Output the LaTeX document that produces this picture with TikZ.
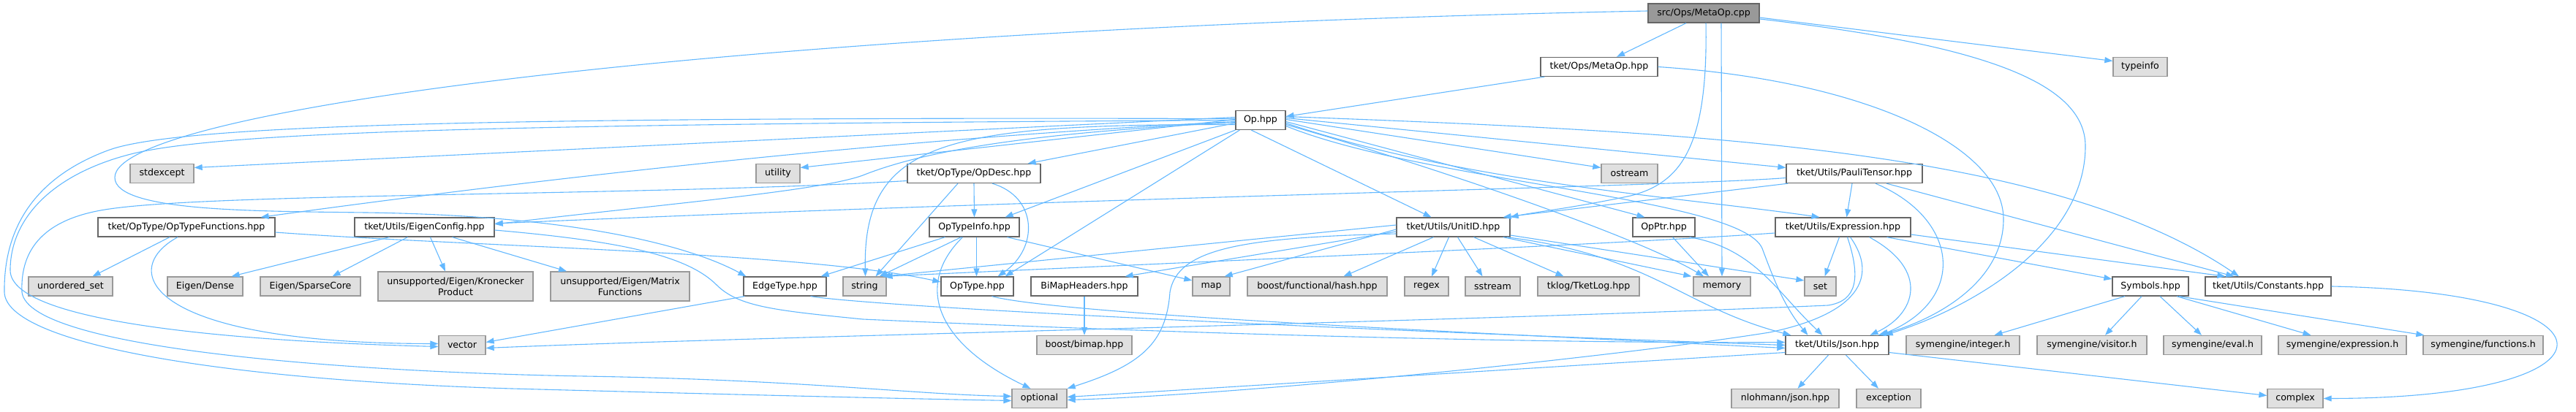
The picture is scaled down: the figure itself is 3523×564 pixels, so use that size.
\documentclass[tikz,border=0pt]{standalone}
\usepackage{fontspec}
\setmainfont{DejaVu Sans}
\usetikzlibrary{arrows.meta}
\definecolor{edgec}{HTML}{63B8FF}
\definecolor{ndbd}{HTML}{666666}
\definecolor{extbd}{HTML}{999999}
\definecolor{extfill}{HTML}{E0E0E0}
\definecolor{rootfill}{HTML}{999999}
\tikzset{
  box/.style={draw, line width=1.3pt, inner sep=0pt, minimum height=26pt,
    font=\fontsize{12.6pt}{15pt}\selectfont, align=center, text=black},
  nd/.style={box, draw=ndbd, fill=white},
  ext/.style={box, draw=extbd, fill=extfill},
  rootnd/.style={box, draw=ndbd, fill=rootfill},
  tall/.style={minimum height=40pt},
  dep/.style={draw=edgec, line width=1.1pt, -{Triangle[length=11pt,width=8pt]}}
}
\begin{document}
\begin{tikzpicture}[x=1pt,y=-1pt]
\useasboundingbox (0,0) rectangle (3523,564);
% row 0
\node[rootnd, minimum width=152pt] (root) at (2330,18) {src/Ops/MetaOp.cpp};
% row 1
\node[nd, minimum width=160pt] (metaophpp) at (2187,91.5) {tket/Ops/MetaOp.hpp};
\node[ext, minimum width=74pt] (typeinfo) at (2927,91.5) {typeinfo};
% row 2
\node[nd, minimum width=68pt] (op) at (1724,164.5) {Op.hpp};
% row 3
\node[ext, minimum width=87pt] (stdexcept) at (221.5,237.5) {stdexcept};
\node[ext, minimum width=60pt] (utility) at (1064,237.5) {utility};
\node[nd, minimum width=182pt] (opdesc) at (1332,237.5) {tket/OpType/OpDesc.hpp};
\node[ext, minimum width=77pt] (ostream) at (2228.5,237.5) {ostream};
\node[nd, minimum width=186pt] (pauli) at (2536,237.5) {tket/Utils/PauliTensor.hpp};
% row 4
\node[nd, minimum width=242pt] (optypefunc) at (255,311) {tket/OpType/OpTypeFunctions.hpp};
\node[nd, minimum width=191pt] (eigencfg) at (580.5,311) {tket/Utils/EigenConfig.hpp};
\node[nd, minimum width=123pt] (optypeinfo) at (1332.5,311) {OpTypeInfo.hpp};
\node[nd, minimum width=155pt] (unitid) at (1987.5,311) {tket/Utils/UnitID.hpp};
\node[nd, minimum width=85pt] (opptr) at (2275.5,311) {OpPtr.hpp};
\node[nd, minimum width=185pt] (expression) at (2520.5,311) {tket/Utils/Expression.hpp};
% row 5
\node[ext, minimum width=115pt] (unorderedset) at (96.5,392) {unordered\_set};
\node[ext, minimum width=103pt] (dense) at (280.5,392) {Eigen/Dense};
\node[ext, minimum width=137pt] (sparse) at (424.5,392) {Eigen/SparseCore};
\node[ext, tall, minimum width=212pt] (kron) at (623,392) {unsupported/Eigen/Kronecker\\Product};
\node[ext, tall, minimum width=190pt] (matfun) at (848,392) {unsupported/Eigen/Matrix\\Functions};
\node[nd, minimum width=113pt] (edgetype) at (1073.5,392) {EdgeType.hpp};
\node[ext, minimum width=59pt] (string) at (1182.5,392) {string};
\node[nd, minimum width=99pt] (optype) at (1336.5,392) {OpType.hpp};
\node[nd, minimum width=146pt] (bimaphdr) at (1483,392) {BiMapHeaders.hpp};
\node[ext, minimum width=51pt] (map) at (1656.5,392) {map};
\node[ext, minimum width=191pt] (hash) at (1801.5,392) {boost/functional/hash.hpp};
\node[ext, minimum width=60pt] (regex) at (1951,392) {regex};
\node[ext, minimum width=75pt] (sstream) at (2041.5,392) {sstream};
\node[ext, minimum width=139pt] (tketlog) at (2172.5,392) {tklog/TketLog.hpp};
\node[ext, minimum width=78pt] (memory) at (2355,392) {memory};
\node[ext, minimum width=43pt] (set) at (2489.5,392) {set};
\node[nd, minimum width=104pt] (symbols) at (2941,392) {Symbols.hpp};
\node[nd, minimum width=172pt] (constants) at (3102,392) {tket/Utils/Constants.hpp};
% row 6
\node[ext, minimum width=64pt] (vector) at (632,472.5) {vector};
\node[ext, minimum width=130pt] (bimap) at (1483,472.5) {boost/bimap.hpp};
\node[nd, minimum width=141pt] (json) at (2512.5,472.5) {tket/Utils/Json.hpp};
\node[ext, minimum width=155pt] (integer) at (2684.5,472.5) {symengine/integer.h};
\node[ext, minimum width=150pt] (visitor) at (2861,472.5) {symengine/visitor.h};
\node[ext, minimum width=134pt] (eval) at (3026,472.5) {symengine/eval.h};
\node[ext, minimum width=175pt] (exprh) at (3203.5,472.5) {symengine/expression.h};
\node[ext, minimum width=164pt] (functions) at (3396,472.5) {symengine/functions.h};
% row 7
\node[ext, minimum width=75pt] (optional) at (1421.5,545.5) {optional};
\node[ext, minimum width=147pt] (nlohmann) at (2441.5,545.5) {nlohmann/json.hpp};
\node[ext, minimum width=88pt] (exception) at (2583,545.5) {exception};
\node[ext, minimum width=76pt] (complex) at (3139,545.5) {complex};

% ---- edges from src/Ops/MetaOp.cpp
\draw[dep] ([xshift=-24pt]root.south) -- ([xshift=24pt]metaophpp.north);
\draw[dep] ([yshift=-6pt]root.east) -- ([yshift=8pt]typeinfo.west);
\draw[dep] ([xshift=24pt]root.south) -- (memory.north);
\draw[dep] ([xshift=3pt]root.south) .. controls (2336,200) and (2300,250) .. (2230,268)
  .. controls (2150,285) and (2100,290) .. (unitid.north east);
\draw[dep] ([yshift=-8pt]root.east) .. controls (2700,60) and (2852,110) .. (2852,200)
  .. controls (2852,330) and (2700,420) .. ([xshift=-6pt]json.north east);
\draw[dep] ([yshift=3pt]root.west) .. controls (1000,40) and (157,150) .. (157,243)
  .. controls (157,290) and (350,289) .. (500,291)
  .. controls (800,295) and (950,340) .. ([xshift=4pt]edgetype.north west);

% ---- tket/Ops/MetaOp.hpp
\draw[dep] ([xshift=6pt]metaophpp.south west) -- ([yshift=5pt]op.east);
\draw[dep] (metaophpp.east) .. controls (2550,110) and (2740,200) .. (2740,300)
  .. controls (2740,390) and (2640,440) .. ([xshift=-15pt]json.north east);

% ---- Op.hpp
\draw[dep] ([yshift=4pt]op.west) -- ([yshift=8pt]stdexcept.east);
\draw[dep] ([yshift=1pt]op.west) -- ([yshift=8pt]utility.east);
\draw[dep] ([yshift=-4pt]op.west) -- ([xshift=-18pt]opdesc.north east);
\draw[dep] ([yshift=-2pt]op.west) .. controls (1200,190) and (700,250) .. ([xshift=-20pt]optypefunc.north east);
\draw[dep] ([yshift=-3pt]op.west) .. controls (1450,180) and (1280,200) .. (1180,240)
  .. controls (1120,262) and (900,280) .. ([yshift=4pt]eigencfg.east);
\draw[dep] (op.south west) -- ([xshift=-20pt]optypeinfo.north east);
\draw[dep] ([xshift=22pt]op.south west) -- ([xshift=-30pt]unitid.north);
\draw[dep] ([yshift=-2pt]op.east) -- ([xshift=-26pt]opptr.north);
\draw[dep] ([yshift=1pt]op.east) -- ([yshift=8pt]ostream.west);
\draw[dep] ([yshift=3pt]op.east) -- ([yshift=8pt]pauli.west);
\draw[dep] ([yshift=-4pt]op.east) .. controls (2000,250) and (2300,270) .. ([xshift=-32pt]expression.north);
\draw[dep] ([yshift=-6pt]op.east) .. controls (2000,240) and (2250,330) .. ([xshift=-25pt]memory.north);
\draw[dep] ([yshift=5pt]op.east) .. controls (2300,180) and (2800,200) .. ([xshift=-40pt]constants.north);
\draw[dep] ([yshift=-8pt]op.east) .. controls (1950,250) and (2380,270) .. (2410,340)
  .. controls (2425,380) and (2440,420) .. ([xshift=-40pt]json.north);
\draw[dep] ([yshift=-6pt]op.west) .. controls (1300,170) and (1180,190) .. ([xshift=1pt]string.north);
\draw[dep] ([xshift=6pt]op.south west) -- ([xshift=-12pt]optype.north east);
\draw[dep] (op.west) .. controls (750,170) and (300,178) .. (175,212)
  .. controls (70,240) and (14,300) .. (14,370)
  .. controls (14,445) and (350,468) .. ([yshift=-2pt]vector.west);
\draw[dep] ([yshift=2pt]op.west) .. controls (700,160) and (250,170) .. (150,205)
  .. controls (40,245) and (5,320) .. (6,400)
  .. controls (8,470) and (300,520) .. (700,532)
  .. controls (1000,540) and (1200,545) .. ([yshift=-3pt]optional.west);

% ---- OpDesc.hpp
\draw[dep] ([yshift=-10pt]opdesc.west) .. controls (900,268) and (300,264) .. (150,286)
  .. controls (50,300) and (28,350) .. (30,400)
  .. controls (40,480) and (500,510) .. (800,515)
  .. controls (1100,520) and (1250,540) .. ([yshift=3pt]optional.west);
\draw[dep] ([xshift=-22pt]opdesc.south) -- ([xshift=15pt]string.north);
\draw[dep] (opdesc.south) -- (optypeinfo.north);
\draw[dep] ([xshift=25pt]opdesc.south) .. controls (1420,270) and (1420,340) .. ([xshift=-22pt]optype.north east);

% ---- OpTypeInfo.hpp
\draw[dep] ([xshift=-40pt]optypeinfo.south) -- ([xshift=-8pt]edgetype.north east);
\draw[dep] ([xshift=-18pt]optypeinfo.south) -- ([xshift=-10pt]string.north east);
\draw[dep] ([xshift=3pt]optypeinfo.south) -- ([xshift=-1pt]optype.north);
\draw[dep] ([xshift=-16pt]optypeinfo.south) .. controls (1250,390) and (1280,470) .. ([xshift=-12pt]optional.north);
\draw[dep] ([xshift=45pt]optypeinfo.south) -- ([yshift=8pt]map.west);

% ---- OpTypeFunctions.hpp
\draw[dep] ([xshift=-23pt]optypefunc.south) -- ([xshift=30pt]unorderedset.north);
\draw[dep] ([xshift=-12pt]optypefunc.south) .. controls (160,370) and (200,470) .. ([yshift=2pt]vector.west);
\draw[dep] ([yshift=-7pt]optypefunc.east) .. controls (650,338) and (1100,345) .. ([yshift=6pt]optype.west);

% ---- EigenConfig.hpp
\draw[dep] ([xshift=-48pt]eigencfg.south) -- ([xshift=-16pt]dense.north east);
\draw[dep] ([xshift=-23pt]eigencfg.south) -- ([xshift=30pt]sparse.north);
\draw[dep] ([xshift=8pt]eigencfg.south) -- ([xshift=-14pt]kron.north);
\draw[dep] ([xshift=38pt]eigencfg.south) -- ([xshift=-73pt]matfun.north);
\draw[dep] ([yshift=-4pt]eigencfg.east) .. controls (850,330) and (940,350) .. (980,390)
  .. controls (1010,420) and (1060,425) .. (1180,437)
  .. controls (1800,465) and (2250,470) .. ([yshift=4pt]json.west);

% ---- EdgeType.hpp, OpType.hpp, BiMapHeaders.hpp
\draw[dep] ([xshift=2pt]edgetype.south west) -- ([yshift=4pt]vector.east);
\draw[dep] ([xshift=-22pt]edgetype.south east) .. controls (1200,420) and (1800,450) .. (json.west);
\draw[dep] ([xshift=20pt]optype.south) .. controls (1450,430) and (2000,455) .. ([yshift=-4pt]json.west);
\draw[dep] (bimaphdr.south) -- (bimap.north);

% ---- UnitID.hpp
\draw[dep] ([xshift=-27pt]unitid.south) -- ([xshift=36pt]hash.north);
\draw[dep] ([xshift=-6pt]unitid.south) -- ([xshift=7pt]regex.north);
\draw[dep] ([xshift=6pt]unitid.south) -- ([xshift=-14pt]sstream.north);
\draw[dep] ([xshift=28pt]unitid.south) -- ([xshift=-34pt]tketlog.north);
\draw[dep] ([xshift=-10pt]unitid.south east) -- ([xshift=-2pt]memory.north west);
\draw[dep] ([yshift=-11pt]unitid.east) -- ([yshift=8pt]set.west);
\draw[dep] ([xshift=-5pt]unitid.south east) .. controls (2260,350) and (2300,420) .. ([xshift=8pt]json.north west);
\draw[dep] ([yshift=3pt]unitid.west) -- ([xshift=-6pt]string.north east);
\draw[dep] ([yshift=-3pt]unitid.west) -- ([xshift=-8pt]map.north east);
\draw[dep] ([yshift=-6pt]unitid.west) -- ([xshift=-18pt]bimaphdr.north east);
\draw[dep] ([yshift=-9pt]unitid.west) .. controls (1700,325) and (1610,340) .. (1600,400)
  .. controls (1595,470) and (1560,500) .. (optional.north east);

% ---- OpPtr.hpp
\draw[dep] ([xshift=12pt]opptr.south) -- ([xshift=-18pt]memory.north);
\draw[dep] ([xshift=-8pt]opptr.south east) .. controls (2400,340) and (2430,400) .. ([xshift=-20pt]json.north);

% ---- PauliTensor.hpp
\draw[dep] ([yshift=-6pt]pauli.west) .. controls (2300,255) and (1500,270) .. ([yshift=5pt]eigencfg.east);
\draw[dep] ([xshift=3pt]pauli.south west) -- ([xshift=-10pt]unitid.north east);
\draw[dep] ([xshift=-3pt]pauli.south) -- ([xshift=5pt]expression.north);
\draw[dep] ([xshift=29pt]pauli.south) .. controls (2680,300) and (2690,410) .. ([xshift=-12pt]json.north east);
\draw[dep] ([xshift=44pt]pauli.south) -- ([xshift=40pt]constants.north west);

% ---- Expression.hpp
\draw[dep] ([xshift=-5pt]expression.south) -- ([xshift=6pt]set.north);
\draw[dep] ([xshift=60pt]expression.south) -- ([yshift=10pt]symbols.west);
\draw[dep] ([yshift=-10pt]expression.east) -- ([xshift=28pt]constants.north west);
\draw[dep] ([xshift=36pt]expression.south) .. controls (2640,370) and (2620,430) .. ([xshift=45pt]json.north);
\draw[dep] ([yshift=-8pt]expression.west) .. controls (2200,335) and (1600,360) .. ([xshift=-3pt]string.north east);
\draw[dep] ([xshift=6pt]expression.south) .. controls (2545,380) and (2540,412) .. (2500,418)
  .. controls (2000,440) and (1000,462) .. ([yshift=-4pt]vector.east);
\draw[dep] ([xshift=10pt]expression.south) .. controls (2570,380) and (2540,430) .. (2420,455)
  .. controls (2200,490) and (1700,540) .. ([yshift=-2pt]optional.east);

% ---- Symbols.hpp
\draw[dep] ([xshift=-35pt]symbols.south) -- ([xshift=43pt]integer.north);
\draw[dep] ([xshift=-12pt]symbols.south) -- ([xshift=18pt]visitor.north);
\draw[dep] ([xshift=13pt]symbols.south) -- ([xshift=-15pt]eval.north);
\draw[dep] ([xshift=36pt]symbols.south) -- ([xshift=-43pt]exprh.north);
\draw[dep] ([xshift=39pt]symbols.south) -- ([xshift=2pt]functions.north west);

% ---- Json.hpp, Constants.hpp
\draw[dep] ([xshift=-12pt]json.south) -- ([xshift=17pt]nlohmann.north);
\draw[dep] ([xshift=12pt]json.south) -- ([xshift=-14pt]exception.north);
\draw[dep] ([yshift=-10pt]json.west) -- ([yshift=2pt]optional.east);
\draw[dep] ([yshift=-10pt]json.east) -- ([yshift=4pt]complex.west);
\draw[dep] (constants.east) .. controls (3600,400) and (3600,545) .. (complex.east);
\end{tikzpicture}
\end{document}
